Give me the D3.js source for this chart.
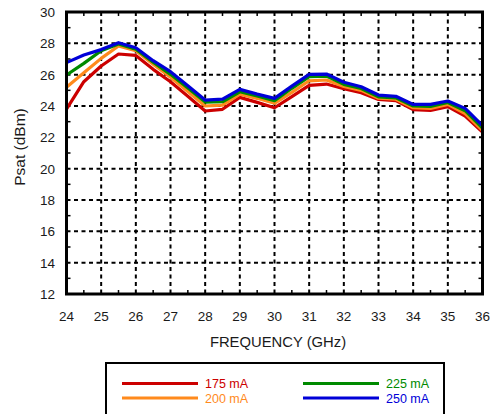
<!DOCTYPE html>
<html>
<head>
<meta charset="utf-8">
<script src="https://cdn.jsdelivr.net/npm/d3@7"></script>
<style>
  html, body { margin: 0; padding: 0; background: #fff; }
  svg { display: block; font-family: "Liberation Sans", Arial, Helvetica, sans-serif; }
</style>
</head>
<body>
<svg id="chart" width="493" height="414"></svg>
<script>
// Saturated output power vs. frequency for four drain currents
const freqGHz = [24, 24.5, 25, 25.5, 26, 26.5, 27, 27.5, 28, 28.5, 29, 29.5, 30,
                 30.5, 31, 31.5, 32, 32.5, 33, 33.5, 34, 34.5, 35, 35.5, 36];

const psat175 = [23.8, 25.55, 26.55, 27.32, 27.23, 26.34, 25.55, 24.62, 23.68, 23.79, 24.55, 24.23, 23.89,
                 24.6, 25.32, 25.4, 25.1, 24.85, 24.42, 24.34, 23.77, 23.72, 23.96, 23.36, 22.33];
const psat200 = [25.2, 26.12, 27.04, 27.83, 27.53, 26.66, 25.83, 24.93, 24.0, 24.06, 24.76, 24.49, 24.17,
                 24.87, 25.61, 25.66, 25.25, 25.0, 24.5, 24.43, 23.89, 23.85, 24.1, 23.52, 22.45];
const psat225 = [25.98, 26.72, 27.53, 27.96, 27.63, 26.79, 26.02, 25.15, 24.25, 24.27, 24.91, 24.64, 24.34,
                 25.13, 25.87, 25.91, 25.38, 25.12, 24.58, 24.52, 24.0, 23.98, 24.22, 23.7, 22.58];
const psat250 = [26.77, 27.25, 27.6, 28.04, 27.72, 26.89, 26.19, 25.3, 24.38, 24.44, 25.06, 24.76, 24.49,
                 25.27, 26.02, 26.04, 25.52, 25.23, 24.7, 24.62, 24.1, 24.1, 24.32, 23.85, 22.75];

const seriesNames = ["175 mA", "200 mA", "225 mA", "250 mA"];
const seriesValues = [psat175, psat200, psat225, psat250];
const seriesColors = ["#cc0000", "#ff8a1c", "#008a00", "#0000d8"];

const xTicks = [24, 25, 26, 27, 28, 29, 30, 31, 32, 33, 34, 35, 36];
const yTicks = [12, 14, 16, 18, 20, 22, 24, 26, 28, 30];

const xTitle = "FREQUENCY (GHz)";
const yTitle = "Psat (dBm)";

const svg = d3.select("#chart");
const plotLeft = 66.5, plotRight = 482.5, plotTop = 12, plotBottom = 294;

const x = d3.scaleLinear().domain([24, 36]).range([plotLeft, plotRight]);
const y = d3.scaleLinear().domain([12, 30]).range([plotBottom, plotTop]);

// dashed grid
const grid = svg.append("g").attr("stroke", "#000").attr("stroke-width", 2)
  .attr("stroke-dasharray", "4,3.5");
grid.selectAll("line.gx").data(xTicks.slice(1, -1)).join("line")
  .attr("x1", d => x(d)).attr("x2", d => x(d)).attr("y1", plotTop).attr("y2", plotBottom);
grid.selectAll("line.gy").data(yTicks.slice(1, -1)).join("line")
  .attr("y1", d => y(d)).attr("y2", d => y(d)).attr("x1", plotLeft).attr("x2", plotRight);

// minor ticks pointing inward
const minorX = d3.range(24.5, 36, 1);
const minorY = d3.range(13, 30, 2);
const ticks = svg.append("g").attr("stroke", "#000").attr("stroke-width", 1.5);
ticks.selectAll("line.mxb").data(minorX).join("line")
  .attr("x1", d => x(d)).attr("x2", d => x(d)).attr("y1", plotBottom).attr("y2", plotBottom - 4);
ticks.selectAll("line.mxt").data(minorX).join("line")
  .attr("x1", d => x(d)).attr("x2", d => x(d)).attr("y1", plotTop).attr("y2", plotTop + 4);
ticks.selectAll("line.myl").data(minorY).join("line")
  .attr("y1", d => y(d)).attr("y2", d => y(d)).attr("x1", plotLeft).attr("x2", plotLeft + 4);
ticks.selectAll("line.myr").data(minorY).join("line")
  .attr("y1", d => y(d)).attr("y2", d => y(d)).attr("x1", plotRight).attr("x2", plotRight - 4);

// series lines
const line = d3.line().x((d, i) => x(freqGHz[i])).y(d => y(d));
svg.append("g").selectAll("path").data(seriesValues).join("path")
  .attr("d", d => line(d))
  .attr("fill", "none")
  .attr("stroke", (d, i) => seriesColors[i])
  .attr("stroke-width", 3.2)
  .attr("stroke-linejoin", "round");

// frame
svg.append("rect")
  .attr("x", plotLeft).attr("y", plotTop)
  .attr("width", plotRight - plotLeft).attr("height", plotBottom - plotTop)
  .attr("fill", "none").attr("stroke", "#000").attr("stroke-width", 3);

// tick labels
svg.append("g").selectAll("text").data(yTicks).join("text")
  .attr("x", 55).attr("y", d => y(d)).attr("dy", "0.36em")
  .attr("text-anchor", "end").attr("font-size", 13.5).attr("fill", "#1a1a1a")
  .text(d => d);
svg.append("g").selectAll("text").data(xTicks).join("text")
  .attr("x", d => x(d)).attr("y", 321)
  .attr("text-anchor", "middle").attr("font-size", 13.5).attr("fill", "#1a1a1a")
  .text(d => d);

// axis titles
svg.append("text")
  .attr("x", 278).attr("y", 347)
  .attr("text-anchor", "middle").attr("font-size", 14.8).attr("fill", "#1a1a1a")
  .text(xTitle);
svg.append("text")
  .attr("transform", "translate(25,147) rotate(-90)")
  .attr("text-anchor", "middle").attr("font-size", 15.5).attr("fill", "#1a1a1a")
  .text(yTitle);

// legend
const legend = svg.append("g");
legend.append("rect")
  .attr("x", 106).attr("y", 363).attr("width", 338).attr("height", 70)
  .attr("fill", "#fff").attr("stroke", "#000").attr("stroke-width", 2);
const legendItems = legend.selectAll("g.item").data(seriesNames).join("g")
  .attr("transform", (d, i) => `translate(${i < 2 ? 122 : 303},${i % 2 === 0 ? 383.5 : 398})`);
legendItems.append("line")
  .attr("x1", 0).attr("x2", 76).attr("y1", 0).attr("y2", 0)
  .attr("stroke", (d, i) => seriesColors[i]).attr("stroke-width", 3);
legendItems.append("text")
  .attr("x", 83).attr("y", 0).attr("dy", "0.36em")
  .attr("font-size", 12.5).attr("fill", (d, i) => seriesColors[i])
  .text(d => d);
</script>
</body>
</html>
